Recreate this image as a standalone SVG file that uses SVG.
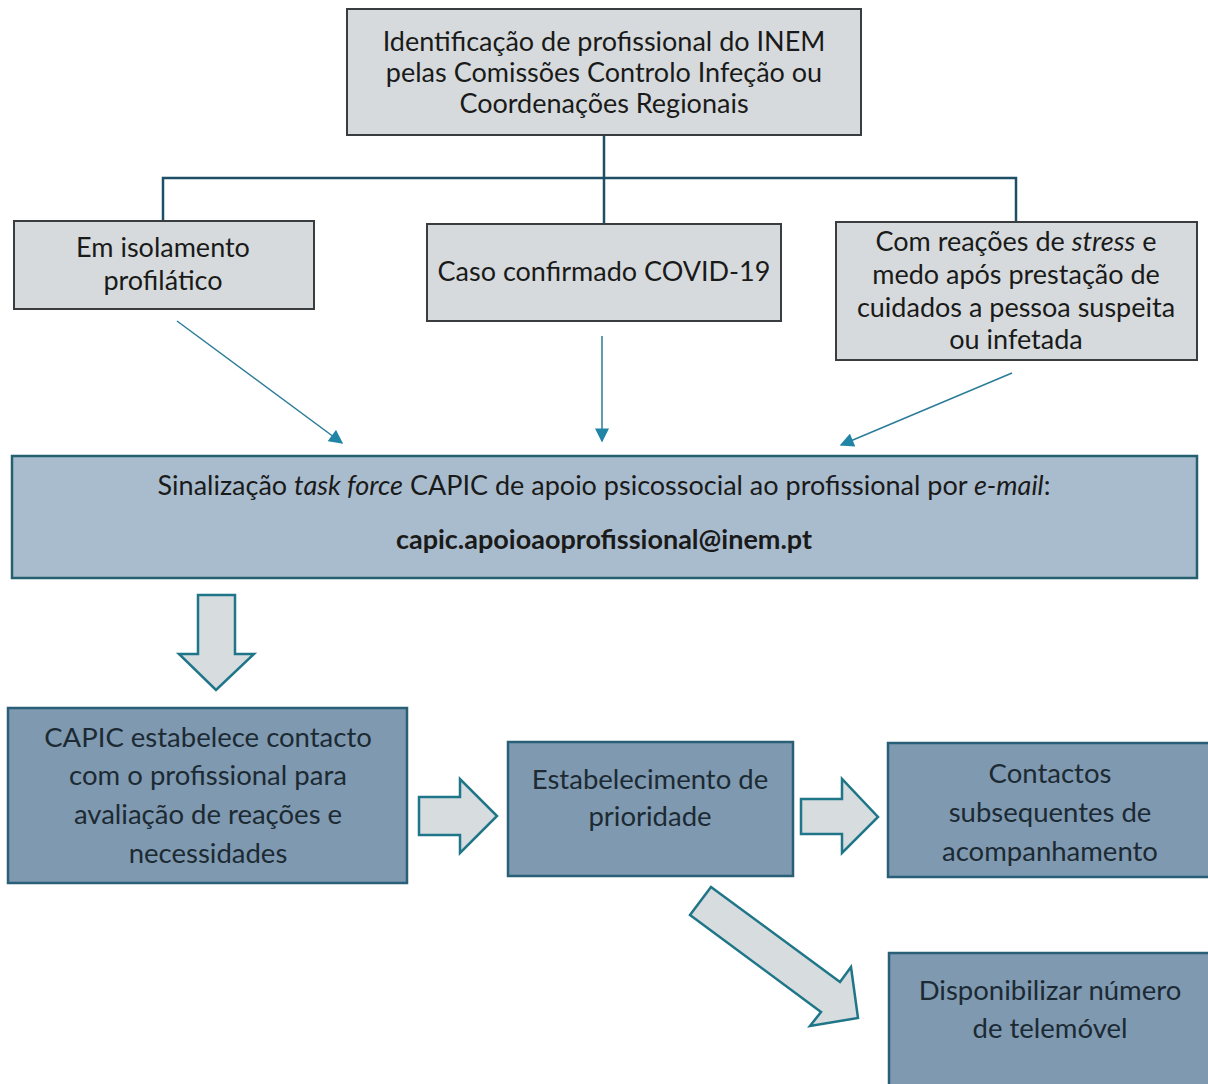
<svg xmlns="http://www.w3.org/2000/svg" width="1208" height="1084" viewBox="0 0 1208 1084">
<style>
.t{font-family:Lato,"Open Sans","Liberation Sans",sans-serif;font-size:27px;fill:#1a1a1a;text-anchor:middle}
.d{fill:#1c2a33;font-size:27.5px}
.gray{fill:#d6dadc;stroke:#3a3d40;stroke-width:2}
.mid{fill:#a9bccd;stroke:#24606f;stroke-width:2.5}
.dark{fill:#7f99b1;stroke:#2a5f78;stroke-width:2.5}
.blk{fill:#d7dcdf;stroke:#1f7688;stroke-width:2.5;stroke-linejoin:miter}
.ln{fill:none;stroke:#1e4f66;stroke-width:2.5}
.th{fill:none;stroke:#2a7c99;stroke-width:1.5}
</style>
<defs>
<marker id="ah" viewBox="0 0 10 10" refX="9" refY="5" markerWidth="15" markerHeight="14" markerUnits="userSpaceOnUse" orient="auto">
<path d="M0,0 L10,5 L0,10 z" fill="#1f84a6"/>
</marker>
</defs>
<rect width="1208" height="1084" fill="#ffffff"/>
<g id="connectors">
<path class="ln" d="M604,135 V224 M163,221 V178 H1016 V222"/>
<line class="th" x1="177" y1="321" x2="342" y2="443" marker-end="url(#ah)"/>
<line class="th" x1="602" y1="336" x2="602" y2="441" marker-end="url(#ah)"/>
<line class="th" x1="1012" y1="373" x2="841" y2="445" marker-end="url(#ah)"/>
<polygon class="blk" points="198,595 235,595 235,654 254,654 216,690 179,654 198,654"/>
<polygon class="blk" points="419,797 460,797 460,779 497,816 460,853 460,835 419,835"/>
<polygon class="blk" points="801,799 842,799 842,779 878,817 842,853 842,834 801,834"/>
<polygon class="blk" points="711,887 840,982 851,967 858,1018 810,1026 821,1012 690,915"/>
</g>
<g id="n-identificacao">
<rect class="gray" x="347" y="9" width="514" height="126"/>
<text class="t" x="604" y="51">Identificação de profissional do INEM</text>
<text class="t" x="604" y="82">pelas Comissões Controlo Infeção ou</text>
<text class="t" x="604" y="113">Coordenações Regionais</text>
</g>
<g id="n-isolamento">
<rect class="gray" x="14" y="221" width="300" height="88"/>
<text class="t" x="163" y="257">Em isolamento</text>
<text class="t" x="163" y="290">profilático</text>
</g>
<g id="n-covid">
<rect class="gray" x="427" y="224" width="354" height="97"/>
<text class="t" x="604" y="281">Caso confirmado COVID-19</text>
</g>
<g id="n-stress">
<rect class="gray" x="836" y="222" width="361" height="138"/>
<text class="t" x="1016" y="251">Com reações de <tspan font-style="italic">stress</tspan> e</text>
<text class="t" x="1016" y="284">medo após prestação de</text>
<text class="t" x="1016" y="317">cuidados a pessoa suspeita</text>
<text class="t" x="1016" y="349">ou infetada</text>
</g>
<g id="n-sinalizacao">
<rect class="mid" x="12" y="456" width="1185" height="122"/>
<text class="t" x="604" y="495">Sinalização <tspan font-style="italic">task force</tspan> CAPIC de apoio psicossocial ao profissional por <tspan font-style="italic">e-mail</tspan>:</text>
<text class="t" x="604" y="549" font-weight="bold">capic.apoioaoprofissional@inem.pt</text>
</g>
<g id="n-capic">
<rect class="dark" x="8" y="708" width="399" height="175"/>
<text class="t d" x="208" y="747">CAPIC estabelece contacto</text>
<text class="t d" x="208" y="785">com o profissional para</text>
<text class="t d" x="208" y="824">avaliação de reações e</text>
<text class="t d" x="208" y="863">necessidades</text>
</g>
<g id="n-prioridade">
<rect class="dark" x="508" y="742" width="285" height="134"/>
<text class="t d" x="650" y="789">Estabelecimento de</text>
<text class="t d" x="650" y="826">prioridade</text>
</g>
<g id="n-contactos">
<rect class="dark" x="888" y="743" width="330" height="134"/>
<text class="t d" x="1050" y="783">Contactos</text>
<text class="t d" x="1050" y="822">subsequentes de</text>
<text class="t d" x="1050" y="861">acompanhamento</text>
</g>
<g id="n-telemovel">
<rect class="dark" x="889" y="953" width="330" height="140"/>
<text class="t d" x="1050" y="1000">Disponibilizar número</text>
<text class="t d" x="1050" y="1038">de telemóvel</text>
</g>
</svg>
